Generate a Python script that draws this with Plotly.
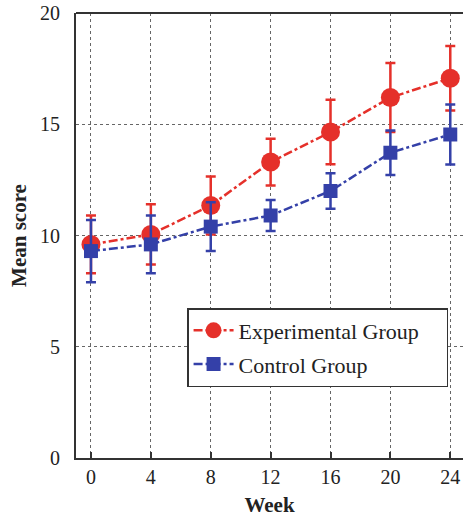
import plotly.graph_objects as go

weeks = [0, 4, 8, 12, 16, 20, 24]
exp_mean = [9.6, 10.05, 11.35, 13.3, 14.65, 16.2, 17.07]
exp_err = [1.3, 1.35, 1.3, 1.05, 1.45, 1.55, 1.45]
ctrl_mean = [9.3, 9.6, 10.4, 10.9, 12.0, 13.72, 14.54]
ctrl_err = [1.4, 1.3, 1.1, 0.7, 0.8, 1.0, 1.35]
x_ticks = [0, 4, 8, 12, 16, 20, 24]
y_ticks = [0, 5, 10, 15, 20]

RED = "#e5302a"
BLUE = "#3440a8"
FONT = "Liberation Serif"
PAD = "\u00a0" * 4

fig = go.Figure()
fig.add_trace(go.Scatter(
    x=weeks, y=exp_mean, name="Experimental Group" + PAD, mode="lines+markers",
    legendgroup="e",
    line=dict(color=RED, width=2.5, dash="dashdot"),
    marker=dict(symbol="circle", size=19, color=RED),
    error_y=dict(type="data", array=exp_err, color=RED, thickness=2.5, width=5),
))
fig.add_trace(go.Scatter(
    x=weeks, y=ctrl_mean, name="Control Group", mode="lines+markers",
    legendgroup="c",
    line=dict(color=BLUE, width=2.5, dash="dashdot"),
    marker=dict(symbol="square", size=14, color=BLUE),
    error_y=dict(type="data", array=ctrl_err, color=BLUE, thickness=2.5, width=5),
))

fig.update_layout(
    width=463, height=521,
    margin=dict(l=76, r=0, t=13, b=63),
    paper_bgcolor="white", plot_bgcolor="white",
    font=dict(family=FONT, size=20, color="#222222"),
    showlegend=True,
    legend=dict(
        x=0.287, y=0.337, xanchor="left", yanchor="top",
        bgcolor="white", bordercolor="#333333", borderwidth=1.5,
        font=dict(family=FONT, size=22, color="#222222"),
        itemwidth=40, tracegroupgap=2, traceorder="grouped",
    ),
    xaxis=dict(
        range=[-1, 24.85], tickvals=x_ticks, ticktext=[str(v) for v in x_ticks],
        showgrid=True, gridcolor="#666666", griddash="dot", gridwidth=1,
        zeroline=False, showline=True, linecolor="#333333", linewidth=2,
        ticks="inside", ticklen=6, tickcolor="#333333", tickwidth=1.5,
        title=dict(text="<b>Week</b>", font=dict(family=FONT, size=21), standoff=10),
    ),
    yaxis=dict(
        range=[0, 20], tickvals=y_ticks, ticktext=[str(v) for v in y_ticks],
        showgrid=True, gridcolor="#666666", griddash="dot", gridwidth=1,
        zeroline=False, showline=True, linecolor="#333333", linewidth=2,
        ticks="", ticklabelstandoff=10,
        title=dict(text="<b>Mean score</b>", font=dict(family=FONT, size=21), standoff=8),
    ),
    shapes=[dict(type="line", xref="paper", yref="paper", x0=0, x1=1, y0=1, y1=1,
                 line=dict(color="#333333", width=2))],
)
fig.write_html("out.html")
